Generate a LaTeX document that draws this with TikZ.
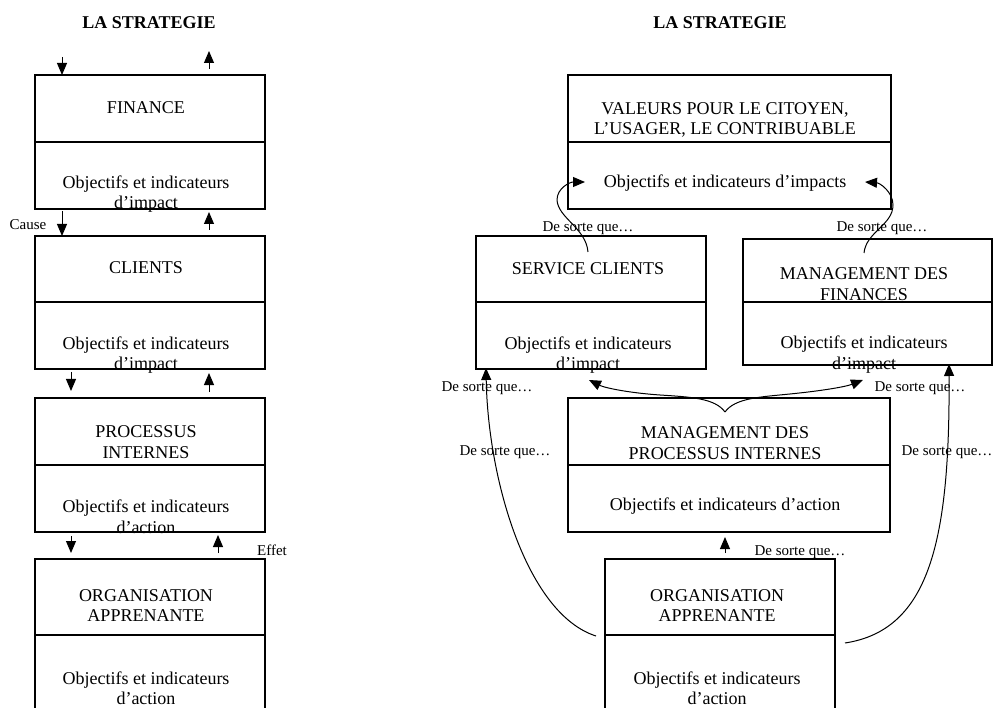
\documentclass[tikz,border=0pt]{standalone}
\usepackage{fontspec}
\setmainfont{Liberation Serif}
\usetikzlibrary{arrows.meta}
\begin{document}
\begin{tikzpicture}[x=1pt,y=-1pt,
  boxpart/.style={draw, line width=1.1pt, inner sep=0pt, outer sep=0pt},
  main/.style={font=\fontsize{18}{20.5}\selectfont, inner sep=0pt, align=center},
  small/.style={font=\fontsize{15}{17}\selectfont, inner sep=0pt},
  ttl/.style={font=\fontsize{18}{20}\selectfont\bfseries, inner sep=0pt},
  arr/.style={line width=1pt, -{Triangle[length=12pt,width=10pt]}}]
\useasboundingbox (0,0) rectangle (993,708);
\clip (0,0) rectangle (993,708);

% ---------- left column ----------
\node[ttl] (ttlL) at (149,23) {LA STRATEGIE};

\node[boxpart, minimum width=230pt, minimum height=67pt] (finT) at (150,108.5) {};
\node[boxpart, minimum width=230pt, minimum height=67pt] (finB) at (150,175.5) {};
\node[boxpart, minimum width=230pt, minimum height=66pt] (cliT) at (150,269) {};
\node[boxpart, minimum width=230pt, minimum height=67pt] (cliB) at (150,335.5) {};
\node[boxpart, minimum width=230pt, minimum height=67pt] (prcT) at (150,431.5) {};
\node[boxpart, minimum width=230pt, minimum height=67pt] (prcB) at (150,498.5) {};
\node[boxpart, minimum width=230pt, minimum height=76pt] (orgT) at (150,597) {};
\node[boxpart, minimum width=230pt, minimum height=80pt] (orgB) at (150,675) {};

\node[main] (finTt) at (146,108) {FINANCE};
\node[main] (finBt) at (146,194) {Objectifs et indicateurs\\d’impact};
\node[main] (cliTt) at (146,268) {CLIENTS};
\node[main] (cliBt) at (146,355) {Objectifs et indicateurs\\d’impact};
\node[main] (prcTt) at (146,442) {PROCESSUS\\INTERNES};
\node[main] (prcBt) at (146,516.5) {Objectifs et indicateurs\\d’action};
\node[main] (orgTt) at (146,605.5) {ORGANISATION\\APPRENANTE};
\node[main] (orgBt) at (146,688) {Objectifs et indicateurs\\d’action};

\coordinate (dA) at (62,57);   \coordinate (uA) at (209,69);  \coordinate (uAe) at (209,51);
\coordinate (dB) at (62,211);  \coordinate (uB) at (209,230); \coordinate (uBe) at (209,212);
\coordinate (dC) at (71,372);  \coordinate (dCe) at (71,391); \coordinate (uC) at (209,392); \coordinate (uCe) at (209,373);
\coordinate (dD) at (71,536);  \coordinate (dDe) at (71,553); \coordinate (uD) at (218,553); \coordinate (uDe) at (218,535);

\draw[arr] (dA) -- (dA |- finT.north);
\draw[arr] (uA) -- (uAe);
\draw[arr] (dB) -- (dB |- cliT.north);
\draw[arr] (uB) -- (uBe);
\draw[arr] (dC) -- (dCe);
\draw[arr] (uC) -- (uCe);
\draw[arr] (dD) -- (dDe);
\draw[arr] (uD) -- (uDe);

\node[small] (cause) at (28,225) {Cause};
\node[small] (effet) at (272,550) {Effet};

% ---------- right column ----------
\node[ttl] (ttlR) at (720,23) {LA STRATEGIE};

\node[boxpart, minimum width=323pt, minimum height=67pt] (valT) at (729.5,108.5) {};
\node[boxpart, minimum width=323pt, minimum height=67pt] (valB) at (729.5,175.5) {};
\node[boxpart, minimum width=230pt, minimum height=66pt] (scT) at (591,269) {};
\node[boxpart, minimum width=230pt, minimum height=67pt] (scB) at (591,335.5) {};
\node[boxpart, minimum width=249pt, minimum height=63pt] (mfT) at (867.5,270.5) {};
\node[boxpart, minimum width=249pt, minimum height=63pt] (mfB) at (867.5,333.5) {};
\node[boxpart, minimum width=322pt, minimum height=67pt] (mpT) at (729,431.5) {};
\node[boxpart, minimum width=322pt, minimum height=67pt] (mpB) at (729,498.5) {};
\node[boxpart, minimum width=230pt, minimum height=76pt] (og2T) at (720,597) {};
\node[boxpart, minimum width=230pt, minimum height=80pt] (og2B) at (720,675) {};

\node[main] (valTt) at (725,120) {VALEURS POUR LE CITOYEN,\\L’USAGER, LE CONTRIBUABLE};
\node[main] (valBt) at (725,183) {Objectifs et indicateurs d’impacts};
\node[main] (scTt) at (588,269) {SERVICE CLIENTS};
\node[main] (scBt) at (588,355) {Objectifs et indicateurs\\d’impact};
\node[main] (mfTt) at (864,284) {MANAGEMENT DES\\FINANCES};
\node[main] (mfBt) at (864,354.5) {Objectifs et indicateurs\\d’impact};
\node[main] (mpTt) at (725,443) {MANAGEMENT DES\\PROCESSUS INTERNES};
\node[main] (mpBt) at (725,506) {Objectifs et indicateurs d’action};
\node[main] (og2Tt) at (717,605.5) {ORGANISATION\\APPRENANTE};
\node[main] (og2Bt) at (717,688) {Objectifs et indicateurs\\d’action};

% labels
\node[small] (ds1) at (588,228) {De sorte que…};
\node[small] (ds2) at (882,228) {De sorte que…};
\node[small] (ds3) at (487,388) {De sorte que…};
\node[small] (ds4) at (920,388) {De sorte que…};
\node[small] (ds5) at (505,452) {De sorte que…};
\node[small] (ds6) at (947,452) {De sorte que…};
\node[small] (ds7) at (800,552) {De sorte que…};

% connectors
\coordinate (scOut) at (588,252);  \coordinate (valInL) at (585,182);
\coordinate (mfOut) at (864,253);  \coordinate (valInR) at (865,182);
\coordinate (cusp) at (725,412);
\coordinate (scIn) at (589,380);   \coordinate (mfIn) at (863,380);
\coordinate (ogUp) at (725,553);   \coordinate (mpIn) at (725,537);
\coordinate (ogL) at (596,636);    \coordinate (scCorner) at (486,368);
\coordinate (ogR) at (845,643);    \coordinate (mfCorner) at (949,364);

\draw[arr] (scOut) .. controls (586,228) and (558,218) .. (557,200)
  .. controls (557,188) and (570,182) .. (valInL);
\draw[arr] (mfOut) .. controls (866,232) and (893,225) .. (893,205)
  .. controls (893,192) and (880,183) .. (valInR);
\draw[arr] (cusp) .. controls (715,398) and (690,397) .. (660,395)
  .. controls (630,393) and (605,388) .. (scIn);
\draw[arr] (cusp) .. controls (735,398) and (760,397) .. (790,394)
  .. controls (820,391) and (845,387) .. (mfIn);
\draw[arr] (ogUp) -- (mpIn);
\draw[arr] (ogL) .. controls (527,614) and (488,480) .. (scCorner);
\draw[arr] (ogR) .. controls (930,630) and (950,540) .. (mfCorner);
\end{tikzpicture}
\end{document}
